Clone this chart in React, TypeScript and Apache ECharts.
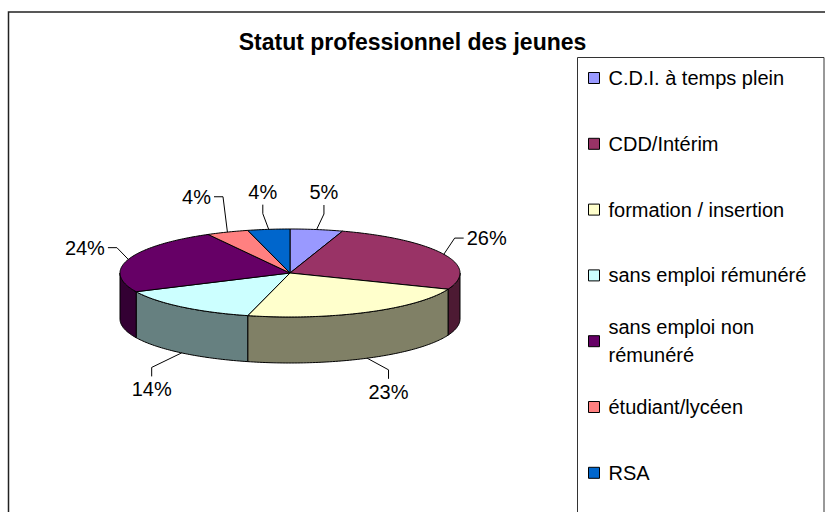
import React, { useEffect, useRef } from 'react';
import * as echarts from 'echarts';

const titleText = 'Statut professionnel des jeunes';
const categories = [
  'C.D.I. à temps plein',
  'CDD/Intérim',
  'formation / insertion',
  'sans emploi rémunéré',
  'sans emploi non rémunéré',
  'étudiant/lycéen',
  'RSA',
];
const values = [5, 26, 23, 14, 24, 4, 4];
const colors = ['#9999FF', '#993366', '#FFFFCC', '#CCFFFF', '#660066', '#FF8080', '#0066CC'];

const FONT = '"Liberation Sans", Arial, Helvetica, sans-serif';
const CX = 290;
const CY = 273;
const RX = 170;
const RY = 44;
const DEPTH = 46;
const LABEL_SIZE = 20;
const LEGEND_SIZE = 20;
const LEGEND_TEXT_WIDTH = 212;

const total = values.reduce((a, b) => a + b, 0);
const cumulative: number[] = [0];
values.forEach((v, i) => cumulative.push(cumulative[i] + v));

function shade(hex: string, f: number): string {
  const n = parseInt(hex.slice(1), 16);
  const r = Math.round(((n >> 16) & 255) * f);
  const g = Math.round(((n >> 8) & 255) * f);
  const b = Math.round((n & 255) * f);
  return `rgb(${r},${g},${b})`;
}

function pt(a: number, dy = 0): number[] {
  const r = (a * Math.PI) / 180;
  return [CX + RX * Math.sin(r), CY - RY * Math.cos(r) + dy];
}

function arc(a0: number, a1: number, dy: number): number[][] {
  const n = Math.max(2, Math.ceil(a1 - a0));
  const pts: number[][] = [];
  for (let k = 0; k <= n; k++) pts.push(pt(a0 + ((a1 - a0) * k) / n, dy));
  return pts;
}

function labelWidth(t: string): number {
  let w = 0;
  for (const ch of t) w += ch === '%' ? 0.889 : 0.556;
  return w * LABEL_SIZE;
}

function measure(t: string, size: number): number {
  const c = document.createElement('canvas').getContext('2d');
  if (!c) return t.length * size * 0.5;
  c.font = `${size}px ${FONT}`;
  return c.measureText(t).width;
}

function wrapName(name: string): string {
  if (measure(name, LEGEND_SIZE) <= LEGEND_TEXT_WIDTH) return name;
  const words = name.split(' ');
  const lines: string[] = [];
  let cur = '';
  words.forEach((w) => {
    const test = cur ? cur + ' ' + w : w;
    if (cur && measure(test, LEGEND_SIZE) > LEGEND_TEXT_WIDTH) {
      lines.push(cur);
      cur = w;
    } else cur = test;
  });
  if (cur) lines.push(cur);
  return lines.join('\n');
}

function makeRenderItem(i: number) {
  return () => {
    const a0 = (cumulative[i] / total) * 360;
    const a1 = (cumulative[i + 1] / total) * 360;
    const color = colors[i];
    const children: any[] = [];
    const s = Math.max(a0, 90);
    const e = Math.min(a1, 270);
    if (e > s) {
      const top = arc(s, e, 0);
      const bottom = arc(s, e, DEPTH).reverse();
      children.push({
        type: 'polygon',
        z2: 1,
        shape: { points: [...top, ...bottom] },
        style: { fill: shade(color, 0.5), stroke: '#000', lineWidth: 1, lineJoin: 'round' },
      });
    }
    children.push({
      type: 'polygon',
      z2: 5,
      shape: { points: [[CX, CY], ...arc(a0, a1, 0)] },
      style: { fill: color, stroke: '#000', lineWidth: 1, lineJoin: 'round' },
    });

    // label with Excel-style leader line
    const mid = (a0 + a1) / 2;
    const r = (mid * Math.PI) / 180;
    const sn = Math.sin(r);
    const cs = Math.cos(r);
    const lower = cs < 0;
    const p = pt(mid, lower ? DEPTH : 0);
    const text = Math.round((values[i] / total) * 100) + '%';
    const w = labelWidth(text);
    const h = LABEL_SIZE;
    const sideAttach = !lower && Math.abs(sn) > 0.3;
    const sg = sn >= 0 ? 1 : -1;
    let cxL: number;
    const cyL = lower
      ? CY + DEPTH + 55 + 20 * Math.abs(cs)
      : CY - (RY + 38) * cs;
    let line: number[][];
    if (sideAttach) {
      cxL = p[0] + sg * (Math.abs(sn) * 12 + w / 2 + 12);
      const attach = [cxL - sg * (w / 2 + 3), cyL];
      const knee = [attach[0] - sg * 9, cyL];
      line = [attach, knee, p];
    } else {
      cxL = CX + (RX + 47) * sn;
      const dir = lower ? -1 : 1;
      const attach = [cxL, cyL + dir * (h / 2 + 3)];
      const knee = [cxL, attach[1] + dir * 9];
      line = [attach, knee, p];
    }
    children.push({
      type: 'polyline',
      z2: 10,
      shape: { points: line },
      style: { stroke: '#000', lineWidth: 1, fill: 'none' },
    });
    children.push({
      type: 'text',
      z2: 10,
      style: {
        text,
        x: cxL,
        y: cyL,
        align: 'center',
        verticalAlign: 'middle',
        fontSize: LABEL_SIZE,
        fontFamily: FONT,
        fill: '#000',
      },
    });
    return { type: 'group', children };
  };
}

export default function App() {
  const ref = useRef<HTMLDivElement>(null);
  useEffect(() => {
    if (!ref.current) return;
    const chart = echarts.init(ref.current, undefined, { renderer: 'svg' });
    const legendStep = 65.8;
    const legendFirst = 78;
    const legends = categories.map((name, i) => {
      const wrapped = wrapName(name);
      const nLines = wrapped.split('\n').length;
      const yc = legendFirst + i * legendStep;
      const lh = nLines > 1 ? 28 : 24;
      const blockH = nLines * lh + (nLines - 1) * lh;
      return {
        data: [name],
        left: 588,
        top: yc - blockH / 2,
        orient: 'vertical',
        padding: 0,
        itemWidth: 11,
        itemHeight: 11,
        icon: 'rect',
        selectedMode: false,
        itemStyle: { borderColor: '#000', borderWidth: 1 },
        formatter: () => wrapped,
        textStyle: {
          fontFamily: FONT,
          fontSize: LEGEND_SIZE,
          color: '#000',
          lineHeight: lh,
          padding: [(nLines - 1) * lh, 0, 0, 4],
        },
      };
    });
    chart.setOption({
      animation: false,
      backgroundColor: '#fff',
      color: colors,
      title: {
        text: titleText,
        left: 'center',
        top: 28,
        padding: [0, 0, 0, 15],
        textStyle: {
          fontFamily: FONT,
          fontWeight: 'bold',
          fontSize: 23,
          lineHeight: 28,
          color: '#000',
        },
      },
      graphic: [
        {
          type: 'rect',
          z: 0,
          silent: true,
          shape: { x: 8.5, y: 12, width: 900, height: 600 },
          style: { fill: '#fff', stroke: '#222', lineWidth: 1.5 },
        },
        {
          type: 'rect',
          z: 1,
          silent: true,
          shape: { x: 577.5, y: 57.5, width: 246.5, height: 500 },
          style: { fill: 'none', stroke: '#333', lineWidth: 1 },
        },
      ],
      legend: legends,
      series: categories.map((name, i) => ({
        type: 'custom',
        name,
        coordinateSystem: 'none',
        silent: true,
        itemStyle: { color: colors[i] },
        data: [[values[i]]],
        renderItem: makeRenderItem(i),
      })),
    });
    return () => chart.dispose();
  }, []);
  return (
    <div
      ref={ref}
      style={{ position: 'fixed', left: 0, top: 0, width: 825, height: 512 }}
    />
  );
}
